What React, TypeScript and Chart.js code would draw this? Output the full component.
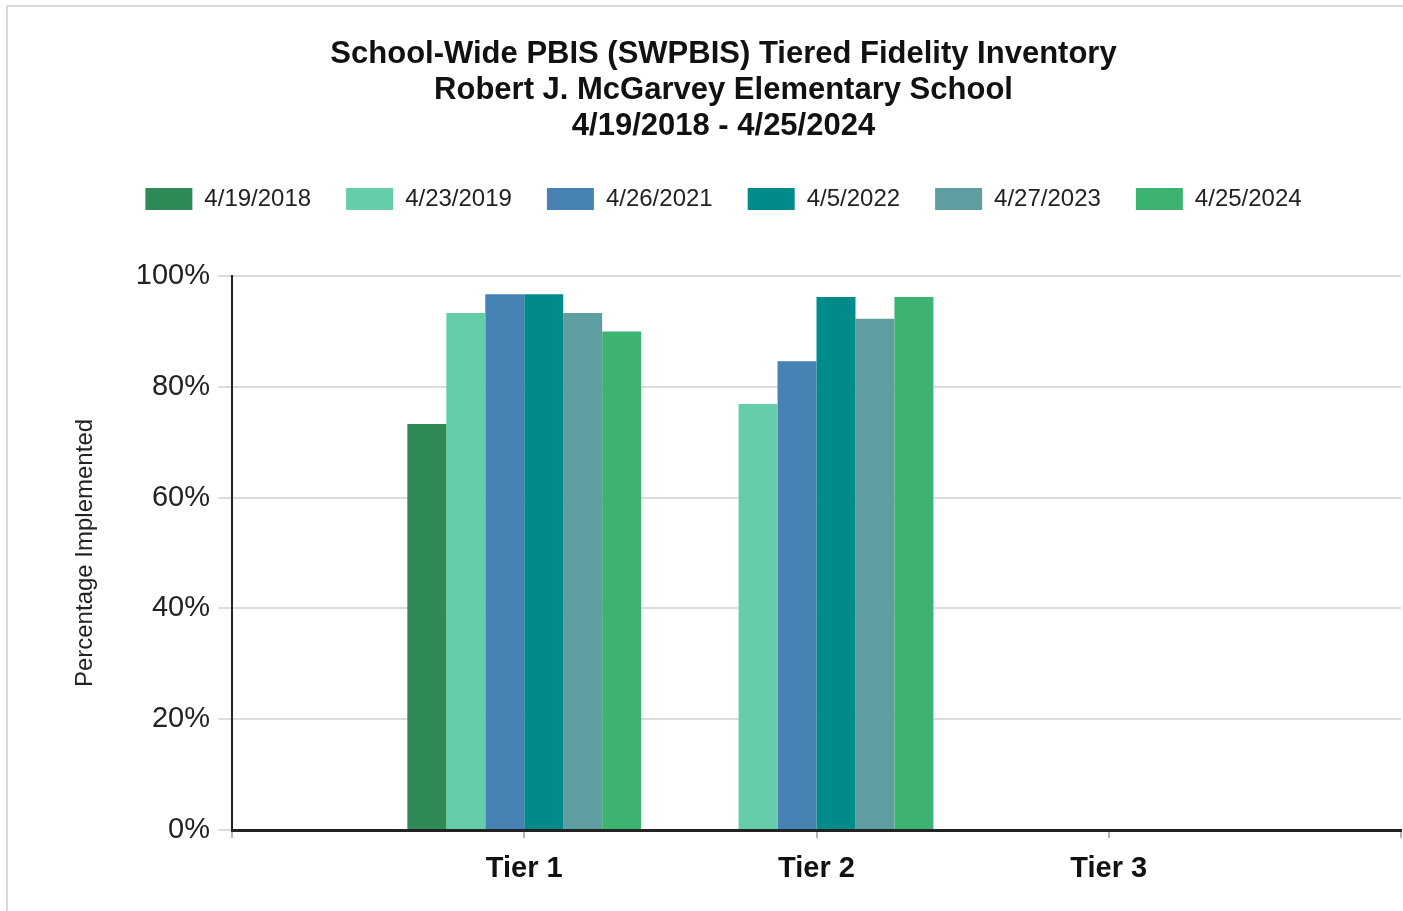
import React, { useEffect, useRef } from 'react';
import { Chart, registerables } from 'chart.js';

Chart.register(...registerables);

const titleLines = [
  'School-Wide PBIS (SWPBIS) Tiered Fidelity Inventory',
  'Robert J. McGarvey Elementary School',
  '4/19/2018 - 4/25/2024',
];
const yAxisTitle = 'Percentage Implemented';
const tiers = ['Tier 1', 'Tier 2', 'Tier 3'];
const dates = ['4/19/2018', '4/23/2019', '4/26/2021', '4/5/2022', '4/27/2023', '4/25/2024'];
const v2018 = [73.3, null, null];
const v2019 = [93.3, 76.9, null];
const v2021 = [96.7, 84.6, null];
const v2022 = [96.7, 96.2, null];
const v2023 = [93.3, 92.3, null];
const v2024 = [90.0, 96.2, null];
const seriesColors = ['#2E8B57', '#66CDAA', '#4682B4', '#008B8B', '#5F9EA0', '#3CB371'];
const yMin = 0;
const yMax = 100;
const yStep = 20;

const FONT = "'Liberation Sans', Arial, Helvetica, sans-serif";

export default function App() {
  const canvasRef = useRef<HTMLCanvasElement | null>(null);

  useEffect(() => {
    if (!canvasRef.current) return;
    const series = [v2018, v2019, v2021, v2022, v2023, v2024];
    // pad an empty slot on each side so tiers sit at inner tick positions
    const labels = ['', ...tiers, ''];
    const datasets = dates.map((d, i) => ({
      label: d,
      data: [null, ...series[i], null],
      backgroundColor: seriesColors[i],
      borderWidth: 0,
      barPercentage: 1.0,
      categoryPercentage: 0.8,
    }));

    const legendSpacer = {
      id: 'legendSpacer',
      beforeLayout(chart: any) {
        const legend = chart.legend;
        if (legend && !legend.__patched) {
          const orig = legend.fit;
          legend.fit = function () {
            orig.call(this);
            this.height = 124;
          };
          legend.__patched = true;
        }
      },
    };

    const chart = new Chart(canvasRef.current, {
      type: 'bar',
      data: { labels, datasets: datasets as any },
      options: {
        animation: false,
        responsive: true,
        maintainAspectRatio: false,
        layout: { padding: { left: 46, right: 2, top: 0, bottom: 0 } },
        plugins: {
          title: {
            display: true,
            text: titleLines,
            color: '#111',
            font: { family: FONT, size: 31, weight: 'bold', lineHeight: '36px' } as any,
            padding: { top: 36, bottom: 8 },
          },
          legend: {
            display: true,
            position: 'top',
            labels: {
              boxWidth: 47,
              boxHeight: 22,
              padding: 35,
              color: '#222',
              font: { family: FONT, size: 24 },
            },
          },
          tooltip: { enabled: false },
        },
        scales: {
          x: {
            type: 'category',
            offset: false,
            grid: {
              offset: false,
              drawOnChartArea: false,
              drawTicks: true,
              tickLength: 8,
              color: '#b5b5b5',
              lineWidth: 2,
            },
            border: { display: true, color: '#222', width: 3 },
            ticks: {
              autoSkip: false,
              maxRotation: 0,
              padding: 14,
              color: '#111',
              font: { family: FONT, size: 29, weight: 'bold' },
            },
            afterFit: (s: any) => {
              s.height = 81;
              s.paddingLeft = 0;
              s.paddingRight = 0;
            },
          },
          y: {
            min: yMin,
            max: yMax,
            grid: {
              color: '#dcdcdc',
              lineWidth: 2,
              drawTicks: true,
              tickLength: 14,
            },
            border: { display: true, color: '#222', width: 2 },
            ticks: {
              stepSize: yStep,
              padding: 8,
              color: '#222',
              font: { family: FONT, size: 29 },
              callback: (v: any) => `${v}%`,
            },
            title: {
              display: true,
              text: yAxisTitle,
              color: '#222',
              font: { family: FONT, size: 24 },
              padding: { top: 25, bottom: 0 },
            },
            afterFit: (s: any) => {
              s.width = 186;
            },
          },
        },
      },
      plugins: [legendSpacer],
    });
    return () => chart.destroy();
  }, []);

  return (
    <div style={{ position: 'fixed', left: 0, top: 0, width: 1403, height: 911, background: '#fff', overflow: 'hidden' }}>
      <div
        style={{
          position: 'absolute',
          left: 6,
          top: 5,
          right: -4,
          bottom: -4,
          borderTop: '2px solid #d9d9d9',
          borderLeft: '2px solid #d9d9d9',
          pointerEvents: 'none',
        }}
      />
      <div style={{ position: 'absolute', left: 0, top: 0, width: 1403, height: 911 }}>
        <canvas ref={canvasRef} />
      </div>
    </div>
  );
}
